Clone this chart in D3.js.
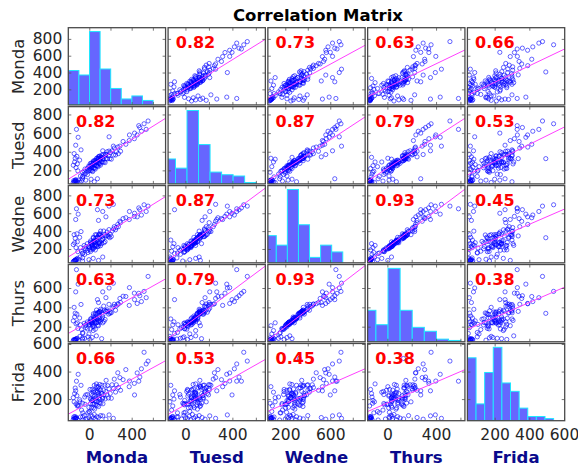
<!DOCTYPE html>
<html><head><meta charset="utf-8">
<script src="https://cdn.jsdelivr.net/npm/d3@7"></script>
<style>body{margin:0;background:#fff}svg{display:block}</style>
</head><body><svg id="c" width="578" height="468"></svg>
<script>
// ---------------- data ----------------
const variables = ["Monda", "Tuesd", "Wedne", "Thurs", "Frida"];

// groups per array: holiday(9) | monday-low(12) | tuesday-low(6) | wednesday-low(5) |
// thursday-low(8) | friday-low(20) | high(9) | main(71)
const monda = [
  62, 70, 75, 80, 66, 85, 92, 78, 88,
  88, 62, 100, 75, 122, 80, 96, 70, 135, 85, 108, 92,
  125, 140, 180, 230, 260, 290,
  150, 210, 250, 300, 340,
  110, 150, 170, 200, 220, 240, 280, 330,
  100, 85, 150, 130, 180, 165, 210, 195, 240, 225, 260, 250, 285, 270, 320, 300, 370, 340, 440, 400,
  590, 640, 665, 690, 705, 730, 750, 768, 680,
  105, 152, 173, 196, 209, 217, 223, 225, 231, 233,
  239, 240, 245, 246, 251, 252, 257, 258, 263, 264,
  269, 270, 275, 276, 281, 282, 287, 288, 293, 294,
  297, 301, 302, 306, 306, 310, 311, 312, 314, 319,
  322, 329, 332, 339, 342, 349, 352, 359, 362, 369,
  372, 381, 386, 395, 399, 407, 411, 421, 428, 442,
  449, 461, 468, 482, 488, 502, 508, 532, 558, 592,
  638
];
const tuesd = [
  68, 75, 82, 72, 90, 86, 78, 95, 100,
  230, 255, 270, 290, 310, 330, 350, 380, 420, 470, 555, 640,
  70, 85, 95, 105, 78, 110,
  180, 240, 290, 330, 320,
  95, 130, 160, 190, 220, 250, 290, 340,
  75, 90, 110, 140, 170, 190, 205, 220, 235, 250, 262, 275, 290, 305, 320, 345, 370, 410, 460, 560,
  520, 600, 580, 660, 620, 700, 640, 730, 680,
  195, 135, 215, 155, 248, 201, 274, 197, 230, 278,
  196, 259, 187, 275, 228, 301, 224, 257, 305, 223,
  286, 214, 302, 255, 328, 251, 284, 332, 250, 313,
  240, 327, 279, 351, 273, 305, 352, 269, 330, 256,
  342, 293, 364, 288, 322, 371, 290, 354, 283, 372,
  326, 400, 324, 358, 407, 326, 390, 320, 410, 365,
  440, 365, 400, 450, 380, 460, 405, 510, 480, 580,
  540
];
const wedne = [
  58, 66, 70, 78, 62, 74, 84, 68, 80,
  215, 250, 280, 270, 330, 320, 370, 360, 395, 530, 590, 650,
  110, 175, 225, 260, 300, 640,
  65, 80, 95, 72, 110,
  85, 100, 140, 160, 190, 215, 240, 260,
  95, 70, 150, 215, 200, 240, 230, 260, 250, 290, 270, 330, 300, 360, 400, 520, 560, 620, 700, 680,
  530, 600, 560, 640, 580, 695, 620, 680, 660,
  170, 155, 205, 185, 228, 211, 274, 172, 250, 268,
  226, 239, 197, 275, 203, 321, 214, 287, 285, 233,
  286, 189, 322, 245, 358, 231, 294, 332, 225, 333,
  230, 357, 259, 361, 273, 280, 372, 259, 360, 236,
  352, 293, 339, 308, 312, 401, 270, 364, 283, 347,
  346, 390, 354, 338, 417, 326, 365, 340, 400, 425,
  450, 415, 440, 475, 450, 510, 495, 540, 550, 620,
  565
];
const thurs = [
  56, 62, 60, 70, 66, 58, 75, 64, 72,
  230, 260, 240, 300, 290, 340, 330, 400, 430, 560, 640, 790,
  100, 170, 220, 250, 280, 480,
  85, 125, 160, 210, 240,
  60, 72, 80, 95, 68, 88, 105, 76,
  80, 65, 130, 220, 190, 235, 225, 250, 245, 280, 260, 310, 290, 340, 380, 450, 500, 560, 650, 600,
  420, 480, 440, 520, 460, 565, 500, 720, 545,
  182, 140, 210, 177, 242, 223, 259, 177, 242, 282,
  238, 224, 202, 267, 217, 333, 199, 292, 277, 247,
  298, 174, 327, 237, 372, 243, 279, 337, 217, 347,
  242, 342, 264, 353, 287, 292, 357, 264, 352, 250,
  364, 278, 344, 300, 326, 413, 255, 369, 275, 361,
  358, 375, 359, 330, 431, 338, 350, 345, 392, 409,
  432, 370, 415, 437, 434, 492, 450, 515, 512, 604,
  547
];
const frida = [
  52, 58, 63, 55, 70, 60, 66, 74, 62,
  165, 210, 150, 240, 195, 280, 225, 180, 300, 260, 380, 330,
  180, 120, 230, 200, 300, 260,
  170, 110, 250, 290, 210,
  150, 70, 215, 100, 270, 190, 310, 240,
  52, 60, 48, 70, 55, 82, 65, 58, 75, 50, 88, 62, 72, 56, 80, 66, 54, 78, 60, 85,
  290, 230, 390, 360, 420, 540, 455, 476, 330,
  158, 100, 162, 233, 140, 104, 202, 168, 236, 137,
  190, 270, 163, 228, 136, 201, 264, 164, 127, 222,
  190, 255, 158, 208, 291, 181, 249, 154, 222, 282,
  184, 146, 241, 208, 273, 175, 226, 306, 197, 265,
  171, 240, 301, 205, 166, 265, 231, 300, 201, 255,
  336, 231, 298, 208, 275, 495, 241, 206, 304, 276,
  345, 251, 304, 391, 284, 356, 264, 341, 414, 331,
  314
];

// correlation coefficients shown in the panels
const corrValues = [
  [1.00, 0.82, 0.73, 0.63, 0.66],
  [0.82, 1.00, 0.87, 0.79, 0.53],
  [0.73, 0.87, 1.00, 0.93, 0.45],
  [0.63, 0.79, 0.93, 1.00, 0.38],
  [0.66, 0.53, 0.45, 0.38, 1.00]
];

// axis limits of each variable (data units)
const valueDomains = [[15, 933], [55, 884], [45, 910], [44, 843], [43, 604]];
// x-axis label limits of each column (as printed under the columns)
const xLabelDomains = [[-198, 720], [-148, 681], [45, 910], [-162, 637], [43, 604]];
const xTickValues = [[0, 200, 400, 600], [0, 200, 400, 600], [200, 400, 600, 800], [0, 200, 400, 600], [200, 400, 600]];
const xTickLabels = [[0, 400], [0, 400], [200, 600], [0, 400], [200, 400, 600]];
const yTickValues = [[200, 400, 600, 800], [200, 400, 600, 800], [200, 400, 600, 800], [200, 400, 600], [200, 400, 600]];

// histograms on the diagonal: first bin edge, bin width, counts
const histStart = [15, 20, 21.5, 12.6, 43];
const histWidth = [100, 98.2, 98.5, 99.4, 49.7];
const histCounts = [
  [23, 20, 49, 24, 11, 4, 6, 3],
  [19, 12, 56, 30, 9, 7, 6, 1],
  [20, 13, 54, 28, 4, 13, 8],
  [24, 13, 56, 24, 11, 8, 2, 1],
  [30, 8, 23, 35, 18, 14, 6, 2, 2, 1]
];

// ---------------- drawing ----------------
const series = [monda, tuesd, wedne, thurs, frida];
const svg = d3.select("#c");
const FONT = "'DejaVu Sans', sans-serif";
const n = variables.length;
const L = 68.3, R = 564.7, T = 27.7, B = 420.7, GX = 2.5, GY = 1.7;
const pw = (R - L - GX * (n - 1)) / n, ph = (B - T - GY * (n - 1)) / n;
const colX = d3.range(n).map(j => L + j * (pw + GX));
const rowY = d3.range(n).map(i => T + i * (ph + GY));
const xs = d3.range(n).map(j => d3.scaleLinear().domain(valueDomains[j]).range([colX[j], colX[j] + pw]));
const ys = d3.range(n).map(i => d3.scaleLinear().domain(valueDomains[i]).range([rowY[i] + ph, rowY[i]]));
const xl = d3.range(n).map(j => d3.scaleLinear().domain(xLabelDomains[j]).range([colX[j], colX[j] + pw]));

svg.append("rect").attr("width", 578).attr("height", 468).attr("fill", "#fff");

function fit(xv, yv) {
  const mx = d3.mean(xv), my = d3.mean(yv);
  let sxy = 0, sxx = 0;
  for (let k = 0; k < xv.length; k++) { sxy += (xv[k] - mx) * (yv[k] - my); sxx += (xv[k] - mx) ** 2; }
  const b = sxy / sxx;
  return { a: my - b * mx, b };
}

const defs = svg.append("defs");

for (let i = 0; i < n; i++) {
  for (let j = 0; j < n; j++) {
    const x0 = colX[j], y0 = rowY[i];
    const id = `clip${i}${j}`;
    defs.append("clipPath").attr("id", id).append("rect")
      .attr("x", x0).attr("y", y0).attr("width", pw).attr("height", ph);
    const g = svg.append("g");
    g.append("rect").attr("x", x0).attr("y", y0).attr("width", pw).attr("height", ph).attr("fill", "#fff");
    const inner = g.append("g").attr("clip-path", `url(#${id})`);
    if (i === j) {
      const counts = histCounts[i];
      const cy = d3.scaleLinear().domain([0, d3.max(counts) / 0.95]).range([y0 + ph, y0]);
      inner.selectAll("rect.bar").data(counts).join("rect")
        .attr("x", (c, k) => xs[j](histStart[j] + k * histWidth[j]))
        .attr("width", (c, k) => xs[j](histStart[j] + (k + 1) * histWidth[j]) - xs[j](histStart[j] + k * histWidth[j]))
        .attr("y", c => cy(c))
        .attr("height", c => cy(0) - cy(c))
        .attr("fill", "#6666ff")
        .attr("stroke", "#1ee6ff").attr("stroke-width", 1);
    } else {
      const xv = series[j], yv = series[i];
      inner.selectAll("circle").data(d3.range(xv.length)).join("circle")
        .attr("cx", k => xs[j](xv[k])).attr("cy", k => ys[i](yv[k])).attr("r", 2.1)
        .attr("fill", "none").attr("stroke", "#0000ff").attr("stroke-width", 0.8).attr("stroke-opacity", 0.75);
      const f = fit(xv, yv);
      const d = valueDomains[j];
      inner.append("line")
        .attr("x1", xs[j](d[0])).attr("y1", ys[i](f.a + f.b * d[0]))
        .attr("x2", xs[j](d[1])).attr("y2", ys[i](f.a + f.b * d[1]))
        .attr("stroke", "#ff40ff").attr("stroke-width", 1);
      g.append("text").attr("x", x0 + 7.7).attr("y", y0 + 20.5)
        .attr("font-family", FONT).attr("font-weight", "bold").attr("font-size", 16)
        .attr("fill", "#ff0000").text(d3.format(".2f")(corrValues[i][j]));
    }
    // inward tick marks on all four sides
    const tick = 3;
    g.append("g").attr("transform", `translate(0,${y0 + ph})`)
      .call(d3.axisBottom(xl[j]).tickValues(xTickValues[j]).tickSize(-tick).tickFormat(""));
    g.append("g").attr("transform", `translate(0,${y0})`)
      .call(d3.axisTop(xl[j]).tickValues(xTickValues[j]).tickSize(-tick).tickFormat(""));
    g.append("g").attr("transform", `translate(${x0},0)`)
      .call(d3.axisLeft(ys[i]).tickValues(yTickValues[i]).tickSize(-tick).tickFormat(""));
    g.append("g").attr("transform", `translate(${x0 + pw},0)`)
      .call(d3.axisRight(ys[i]).tickValues(yTickValues[i]).tickSize(-tick).tickFormat(""));
    g.selectAll(".domain").remove();
    g.selectAll(".tick line").attr("stroke", "#555").attr("stroke-width", 0.8);
    g.append("rect").attr("x", x0).attr("y", y0).attr("width", pw).attr("height", ph)
      .attr("fill", "none").attr("stroke", "#4a4a4a").attr("stroke-width", 1.3);
  }
}

// y tick labels (left column) and row names
for (let i = 0; i < n; i++) {
  const ax = svg.append("g").attr("transform", `translate(${L - 6},0)`)
    .call(d3.axisLeft(ys[i]).tickValues(yTickValues[i]).tickSize(0).tickPadding(0));
  ax.select(".domain").remove();
  ax.selectAll("text").attr("font-family", FONT).attr("font-size", 15.5).attr("fill", "#262626");
  svg.append("text")
    .attr("transform", `translate(24,${rowY[i] + ph / 2}) rotate(-90)`)
    .attr("text-anchor", "middle").attr("font-family", FONT).attr("font-size", 16.5)
    .attr("fill", "#262626").text(variables[i]);
}
// x tick labels (bottom row) and column names
for (let j = 0; j < n; j++) {
  const ax = svg.append("g").attr("transform", `translate(0,${B + 8})`)
    .call(d3.axisBottom(xl[j]).tickValues(xTickLabels[j]).tickSize(0).tickPadding(0));
  ax.select(".domain").remove();
  ax.selectAll("text").attr("font-family", FONT).attr("font-size", 15.5).attr("fill", "#262626").attr("dy", "0.71em");
  svg.append("text").attr("x", colX[j] + pw / 2).attr("y", 463)
    .attr("text-anchor", "middle").attr("font-family", FONT).attr("font-weight", "bold")
    .attr("font-size", 16.5).attr("fill", "#0a0a8c").text(variables[j]);
}
// title
svg.append("text").attr("x", 318).attr("y", 20.5).attr("text-anchor", "middle")
  .attr("font-family", FONT).attr("font-weight", "bold").attr("font-size", 16.5)
  .attr("fill", "#000").text("Correlation Matrix");
</script>
</body></html>
